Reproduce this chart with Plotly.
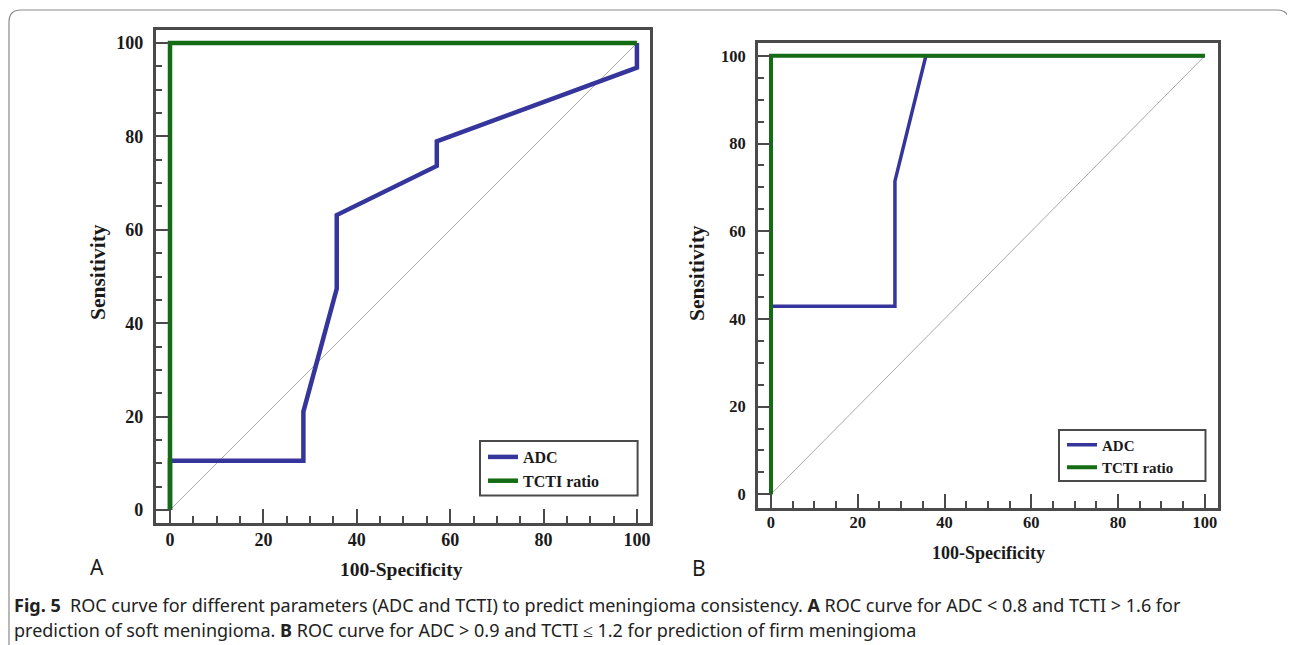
import plotly.graph_objects as go

# The page puts the figure 8px in from the top-left corner, so all layout
# positions below are given in window pixels and shifted by OFF.
OFF = 8
W, H = 1295 - OFF, 645 - OFF

# ---- data ----
a_adc_fpr = [0, 0, 28.57, 28.57, 35.71, 35.71, 57.14, 57.14, 100, 100]
a_adc_sens = [0, 10.53, 10.53, 21.05, 47.37, 63.16, 73.68, 78.95, 94.74, 100]
a_tcti_fpr = [0, 0, 100]
a_tcti_sens = [0, 100, 100]

b_adc_fpr = [0, 0, 28.57, 28.57, 35.71, 100]
b_adc_sens = [0, 42.86, 42.86, 71.43, 100, 100]
b_tcti_fpr = [0, 0, 100]
b_tcti_sens = [0, 100, 100]

diag = [0, 100]
tick_vals = [0, 20, 40, 60, 80, 100]
tick_text = ["0", "20", "40", "60", "80", "100"]
series_names = ["ADC", "TCTI ratio"]

BLUE = "#35359b"
GREEN = "#146c14"
FRAME = "#4a4a4a"
SERIF = "Liberation Serif"


def px(x):
    return (x - OFF) / W


def py(y):
    return 1 - (y - OFF) / H


fig = go.Figure()

# Panel A
fig.add_trace(go.Scatter(x=diag, y=diag, mode="lines", line=dict(color="#a8a8a8", width=1),
                         showlegend=False, xaxis="x", yaxis="y", hoverinfo="skip"))
fig.add_trace(go.Scatter(x=a_adc_fpr, y=a_adc_sens, mode="lines", name=series_names[0],
                         line=dict(color=BLUE, width=4.5), xaxis="x", yaxis="y", legend="legend"))
fig.add_trace(go.Scatter(x=a_tcti_fpr, y=a_tcti_sens, mode="lines", name=series_names[1],
                         line=dict(color=GREEN, width=4.5), xaxis="x", yaxis="y", legend="legend"))
# Panel B
fig.add_trace(go.Scatter(x=diag, y=diag, mode="lines", line=dict(color="#a8a8a8", width=1),
                         showlegend=False, xaxis="x2", yaxis="y2", hoverinfo="skip"))
fig.add_trace(go.Scatter(x=b_adc_fpr, y=b_adc_sens, mode="lines", name=series_names[0],
                         line=dict(color=BLUE, width=3.5), xaxis="x2", yaxis="y2", legend="legend2"))
fig.add_trace(go.Scatter(x=b_tcti_fpr, y=b_tcti_sens, mode="lines", name=series_names[1],
                         line=dict(color=GREEN, width=4), xaxis="x2", yaxis="y2", legend="legend2"))


def axis(domain, rng, size, anchor, standoff):
    return dict(
        domain=domain, range=rng, anchor=anchor,
        showline=True, mirror=True, linecolor=FRAME, linewidth=2.5,
        showgrid=False, zeroline=False,
        ticks="inside", ticklen=14, tickwidth=2, tickcolor=FRAME,
        tickvals=tick_vals, ticktext=tick_text,
        tickfont=dict(family=SERIF, size=size, color="#1a1a1a", weight="bold"),
        ticklabelstandoff=standoff,
        minor=dict(ticks="inside", ticklen=7, tickwidth=1.5, tickcolor=FRAME, dtick=5, tick0=0),
        fixedrange=True,
    )


fig.update_layout(
    width=W, height=H,
    margin=dict(l=0, r=0, t=0, b=0),
    paper_bgcolor="white", plot_bgcolor="white",
    xaxis=axis([px(155.7), px(650)], [-3.06, 102.8], 18, "y", -1),
    yaxis=axis([py(523), py(30)], [-2.8, 102.8], 18, "x", 6),
    xaxis2=axis([px(757.7), px(1218.3)], [-3.06, 103.1], 16.5, "y2", -2),
    yaxis2=axis([py(507.7), py(42.7)], [-3.06, 103.0], 16.5, "x2", 6),
    legend=dict(x=px(483), y=py(440), xanchor="left", yanchor="top",
                bgcolor="rgba(0,0,0,0)", borderwidth=0,
                font=dict(family=SERIF, size=16, color="#1a1a1a", weight="bold"),
                tracegroupgap=0),
    legend2=dict(x=px(1062), y=py(428.5), xanchor="left", yanchor="top",
                 bgcolor="rgba(0,0,0,0)", borderwidth=0,
                 font=dict(family=SERIF, size=15, color="#1a1a1a", weight="bold"),
                 tracegroupgap=0),
)

shapes = []
# legend boxes
shapes.append(dict(type="rect", xref="paper", yref="paper", x0=px(480), x1=px(637.6),
                   y0=py(495.5), y1=py(441), line=dict(color=FRAME, width=2)))
shapes.append(dict(type="rect", xref="paper", yref="paper", x0=px(1059), x1=px(1205.5),
                   y0=py(481), y1=py(430), line=dict(color=FRAME, width=2)))
# outer rounded border
r = 12
x0, x1, y0 = 9, 1289, 10
path = (f"M {px(x0)} {py(H + OFF + 5)} L {px(x0)} {py(y0 + r)} "
        f"Q {px(x0)} {py(y0)} {px(x0 + r)} {py(y0)} "
        f"L {px(x1 - r)} {py(y0)} Q {px(x1)} {py(y0)} {px(x1)} {py(y0 + r)} "
        f"L {px(x1)} {py(H + OFF + 5)}")
shapes.append(dict(type="path", xref="paper", yref="paper", path=path,
                   line=dict(color="#8a8a8a", width=1.2)))
fig.update_layout(shapes=shapes)

ann = []


def text(x, y, s, size, family=SERIF, bold=True, angle=0, xanchor="center", color="#1a1a1a"):
    ann.append(dict(x=px(x), y=py(y), xref="paper", yref="paper", text=s, showarrow=False,
                    textangle=angle, xanchor=xanchor, yanchor="middle",
                    font=dict(family=family, size=size, color=color,
                              weight="bold" if bold else "normal")))


text(402, 569, "100-Specificity", 19.5)
text(98, 272, "Sensitivity", 21.5, angle=-90)
text(988, 553, "100-Specificity", 18)
text(697, 273, "Sensitivity", 21.5, angle=-90)
text(97, 567, "A", 21, family="Noto Sans", bold=False)
text(699, 568, "B", 21, family="Noto Sans", bold=False)

cap1 = ("<b>Fig. 5</b>  ROC curve for different parameters (ADC and TCTI) to predict meningioma "
        "consistency. <b>A</b> ROC curve for ADC &lt; 0.8 and TCTI &gt; 1.6 for")
cap2 = ("prediction of soft meningioma. <b>B</b> ROC curve for ADC &gt; 0.9 and TCTI ≤ 1.2 "
        "for prediction of firm meningioma")
text(12, 605, cap1, 18, family="Noto Sans", bold=False, xanchor="left", color="#222")
text(12, 630, cap2, 18, family="Noto Sans", bold=False, xanchor="left", color="#222")

fig.update_layout(annotations=ann)

fig.write_html("out.html")
